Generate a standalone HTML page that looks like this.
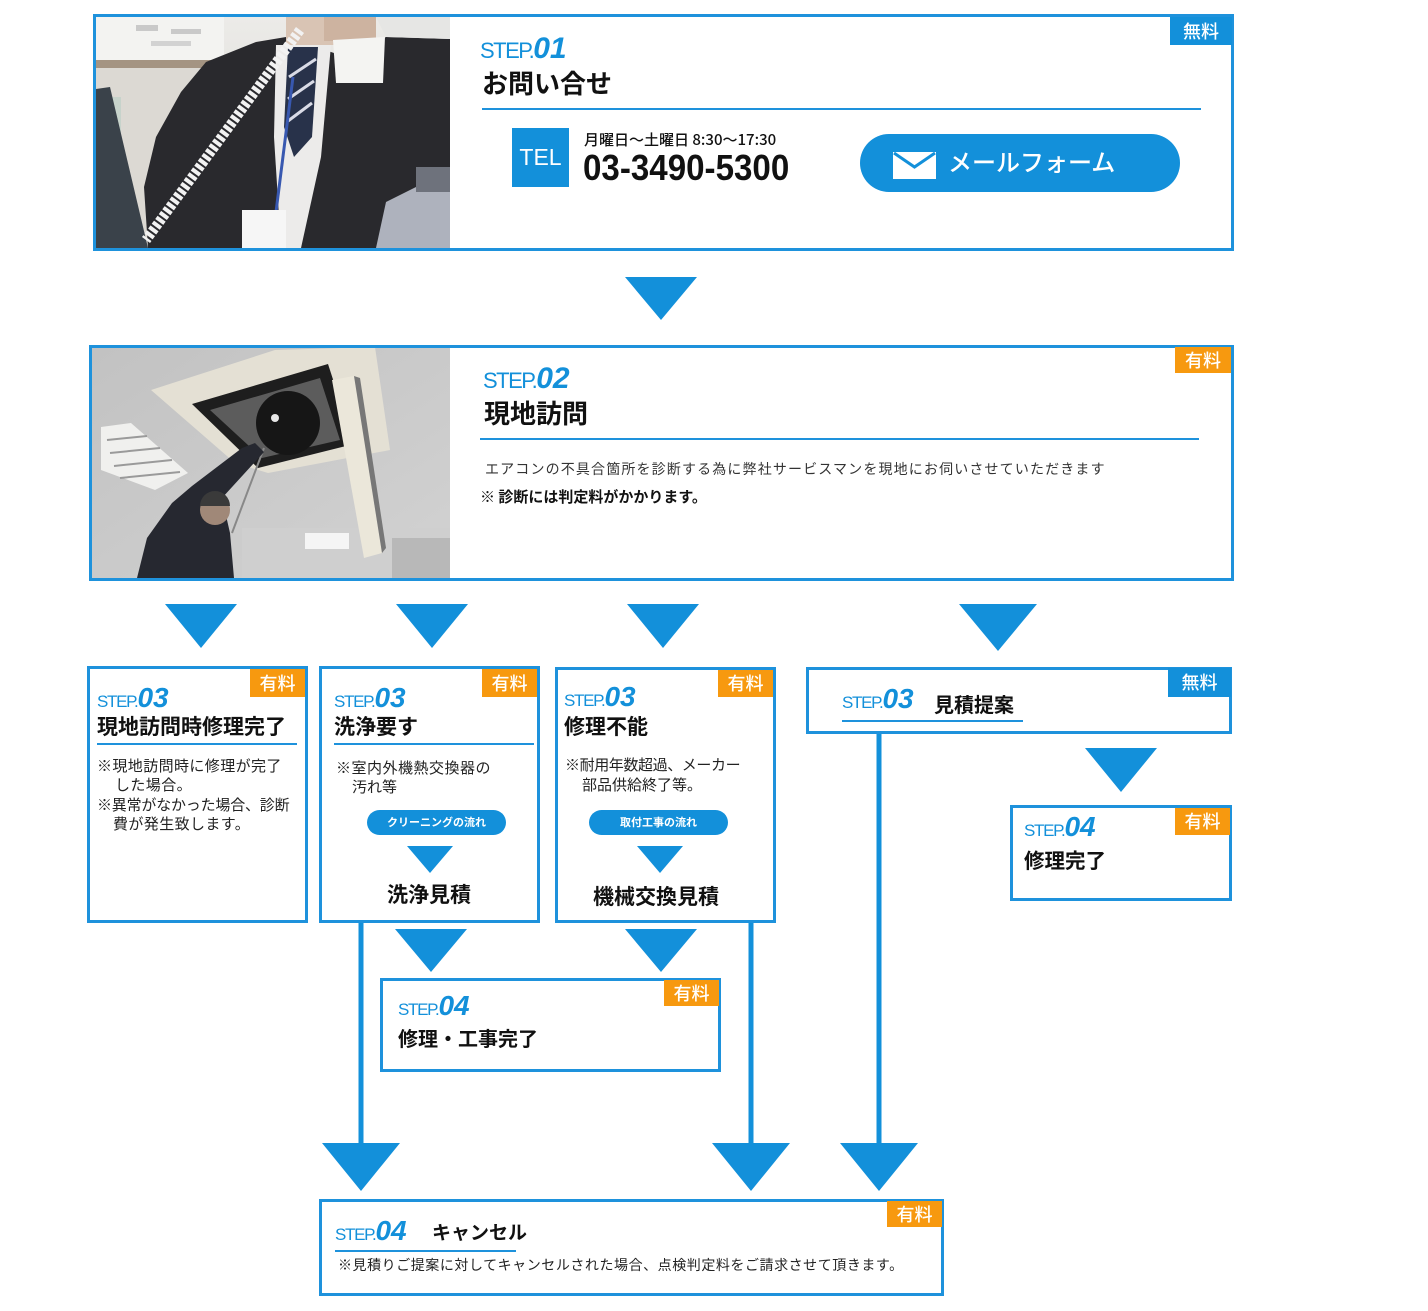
<!DOCTYPE html>
<html><head><meta charset="utf-8">
<style>
*{margin:0;padding:0;box-sizing:border-box}
body{width:1428px;height:1311px;background:#fff;position:relative;overflow:hidden;font-family:"Liberation Sans","Noto Sans CJK JP",sans-serif;color:#111}
.box{position:absolute;border:3px solid #1e92dc;background:#fff}
.badge{position:absolute;color:#fff;font-family:"Noto Sans CJK JP",sans-serif;font-weight:500;font-size:18px;text-align:center}
.or{background:#f7990f}
.bl{background:#1390da}
.step{position:absolute;color:#1390da;line-height:1;white-space:nowrap;font-family:"Liberation Sans",sans-serif}
.step .n{font-weight:700;font-style:italic}
.t{position:absolute;font-family:"Noto Sans CJK JP",sans-serif;font-weight:700;line-height:1;white-space:nowrap;color:#111}
.r{position:absolute;font-family:"Noto Sans CJK JP",sans-serif;font-weight:400;line-height:1;white-space:nowrap;color:#222}
.ln{position:absolute;height:2px;background:#1e92dc}
.pill{position:absolute;background:#1390da;color:#fff;border-radius:13px;height:25px;font-family:"Noto Sans CJK JP",sans-serif;font-weight:700;font-size:11px;line-height:25px;text-align:center}
</style></head><body>

<svg style="position:absolute;left:0;top:0" width="1428" height="1311">
<g fill="#1390da">
<polygon points="625,277 697,277 661,320"/>
<polygon points="165,604 237,604 201,648"/>
<polygon points="396,604 468,604 432,648"/>
<polygon points="627,604 699,604 663,648"/>
<polygon points="959,604 1037,604 998,651"/>
<polygon points="1085,748 1157,748 1121,792"/>
<polygon points="395,929 467,929 431,972"/>
<polygon points="625,929 697,929 661,972"/>
<polygon points="322,1143 400,1143 361,1191"/>
<polygon points="712,1143 790,1143 751,1191"/>
<polygon points="840,1143 918,1143 879,1191"/>
<rect x="358.5" y="920" width="5" height="225"/>
<rect x="748.5" y="920" width="5" height="225"/>
<rect x="876.5" y="732" width="5" height="413"/>
</g>
</svg>

<!-- BOX 1 -->
<div class="box" style="left:93px;top:14px;width:1141px;height:237px"></div>
<svg style="position:absolute;left:96px;top:17px" width="354" height="231" viewBox="0 0 354 231">
<defs><linearGradient id="w1" x1="0" y1="0" x2="0" y2="1"><stop offset="0" stop-color="#ecebe8"/><stop offset="1" stop-color="#d4d3d0"/></linearGradient></defs>
<rect width="354" height="231" fill="url(#w1)"/>
<rect x="0" y="0" width="128" height="43" fill="#f3f3f1"/>
<rect x="40" y="8" width="22" height="6" fill="#c9c9c9"/>
<rect x="75" y="12" width="30" height="5" fill="#c9c9c9"/>
<rect x="55" y="24" width="40" height="5" fill="#d2d2d2"/>
<rect x="0" y="43" width="128" height="8" fill="#a49482"/>
<rect x="0" y="51" width="128" height="180" fill="#dcd9d3"/>
<rect x="0" y="80" width="25" height="80" fill="#c7d3cb"/>
<polygon points="0,72 14,70 52,231 0,231" fill="#3a424a"/>
<polygon points="52,231 48,170 60,120 85,75 110,45 160,25 190,20 250,40 290,20 354,22 354,231" fill="#29292d"/>
<polygon points="280,0 354,0 354,22 290,20" fill="#e6e6e4"/>
<polygon points="290,185 330,165 354,170 354,231 280,231" fill="#aeb2bd"/>
<rect x="320" y="150" width="34" height="25" fill="#6e727c"/>
<polygon points="180,28 235,28 225,140 205,231 185,231 178,120" fill="#ecebea"/>
<polygon points="192,30 222,30 216,120 198,140 188,110" fill="#28324a"/>
<g stroke="#d9dbe6" stroke-width="3"><line x1="193" y1="60" x2="220" y2="42"/><line x1="192" y1="82" x2="218" y2="64"/><line x1="192" y1="104" x2="216" y2="86"/></g>
<rect x="190" y="0" width="54" height="28" fill="#d9c4b4"/>
<rect x="228" y="0" width="52" height="24" fill="#cdb3a0"/>
<polygon points="237,23 289,20 287,66 240,66" fill="#f4f4f2"/>
<line x1="204" y1="13" x2="50" y2="223" stroke="#f2f2f2" stroke-width="10" stroke-dasharray="4 2"/>
<line x1="197" y1="60" x2="180" y2="195" stroke="#3858b0" stroke-width="3"/>
<rect x="146" y="193" width="44" height="38" fill="#f6f6f6"/>
</svg>
<div class="badge bl" style="left:1170px;top:17px;width:62px;height:28px;line-height:28px">無料</div>
<div class="step" style="left:480px;top:34px;font-size:30px"><span style="font-size:22px;letter-spacing:-1.5px">STEP.</span><span class="n">01</span></div>
<div class="t" style="left:482px;top:70px;font-size:26px">お問い合せ</div>
<div class="ln" style="left:482px;top:108px;width:719px"></div>
<div style="position:absolute;left:512px;top:128px;width:57px;height:59px;background:#1390da;color:#fff;font-size:23px;line-height:59px;text-align:center">TEL</div>
<div class="r" style="left:584px;top:132px;font-size:15px;color:#111;font-weight:500">月曜日〜土曜日 8:30〜17:30</div>
<div style="position:absolute;left:583px;top:150px;font-size:36px;line-height:1;font-weight:700;color:#111;transform:scaleX(0.92);transform-origin:0 0;white-space:nowrap">03-3490-5300</div>
<div style="position:absolute;left:860px;top:134px;width:320px;height:58px;border-radius:29px;background:#1390da"></div>
<svg style="position:absolute;left:893px;top:152px" width="43" height="27" viewBox="0 0 43 27"><rect width="43" height="27" fill="#fff"/><polyline points="1,1 21.5,15 42,1" fill="none" stroke="#1390da" stroke-width="3"/></svg>
<div class="t" style="left:948px;top:149px;font-size:24px;color:#fff;font-weight:500">メールフォーム</div>

<!-- BOX 2 -->
<div class="box" style="left:89px;top:345px;width:1145px;height:236px"></div>
<svg style="position:absolute;left:92px;top:348px" width="358" height="230" viewBox="0 0 358 230">
<defs><linearGradient id="c2" x1="0" y1="0" x2="1" y2="1"><stop offset="0" stop-color="#c2c2c2"/><stop offset="1" stop-color="#d2d2d2"/></linearGradient></defs>
<rect width="358" height="230" fill="url(#c2)"/>
<rect x="150" y="180" width="208" height="50" fill="#cfcfcf"/>
<rect x="300" y="190" width="58" height="40" fill="#b8b8b8"/>
<polygon points="9,79 39,75 96,125 63,142 9,122" fill="#f0f0ee"/>
<g stroke="#9a9a9a" stroke-width="2"><line x1="15" y1="92" x2="55" y2="88"/><line x1="18" y1="105" x2="68" y2="100"/><line x1="22" y1="118" x2="80" y2="112"/><line x1="28" y1="130" x2="88" y2="124"/></g>
<polygon points="59,42 183,2 283,-1 298,102 176,125 143,115" fill="#e4e0d4"/>
<polygon points="100,56 236,16 262,96 166,120" fill="#1e1e1e"/>
<polygon points="118,62 228,30 248,92 170,110" fill="#5c5c5c"/>
<circle cx="196" cy="75" r="32" fill="#161616"/>
<circle cx="183" cy="70" r="4" fill="#e8e8e8"/>
<polygon points="240,32 262,28 290,205 272,210" fill="#ebe7da"/>
<polygon points="262,28 268,30 294,200 290,205" fill="#777"/>
<rect x="213" y="185" width="44" height="16" fill="#f5f5f5"/>
<line x1="172" y1="100" x2="140" y2="185" stroke="#888" stroke-width="2"/>
<polygon points="163,95 172,104 130,150 138,185 142,230 45,230 55,190 80,155 100,138 150,100" fill="#262830"/>
<circle cx="123" cy="162" r="15" fill="#a08878"/>
<path d="M108,158 a15,15 0 0 1 30,0 z" fill="#3a3a3a"/>
</svg>
<div class="badge or" style="left:1175px;top:347px;width:56px;height:26px;line-height:26px">有料</div>
<div class="step" style="left:483px;top:364px;font-size:30px"><span style="font-size:22px;letter-spacing:-1.5px">STEP.</span><span class="n">02</span></div>
<div class="t" style="left:484px;top:400px;font-size:26px">現地訪問</div>
<div class="ln" style="left:480px;top:438px;width:719px"></div>
<div class="r" style="left:485px;top:462px;font-size:14px;letter-spacing:1.15px;color:#333">エアコンの不具合箇所を診断する為に弊社サービスマンを現地にお伺いさせていただきます</div>
<div class="t" style="left:480px;top:489px;font-size:15px">※ 診断には判定料がかかります。</div>

<!-- BOX A -->
<div class="box" style="left:87px;top:666px;width:221px;height:257px"></div>
<div class="badge or" style="left:250px;top:669px;width:55px;height:28px;line-height:28px">有料</div>
<div class="step" style="left:97px;top:684px;font-size:28px"><span style="font-size:17px;letter-spacing:-1.3px">STEP.</span><span class="n">03</span></div>
<div class="t" style="left:97px;top:716px;font-size:21px">現地訪問時修理完了</div>
<div class="ln" style="left:97px;top:743px;width:200px"></div>
<div class="r" style="left:97px;top:758px;font-size:15px;letter-spacing:0.4px">※現地訪問時に修理が完了</div>
<div class="r" style="left:115px;top:777px;font-size:15px;letter-spacing:0.4px">した場合。</div>
<div class="r" style="left:97px;top:797px;font-size:15px;letter-spacing:-0.2px">※異常がなかった場合、診断</div>
<div class="r" style="left:113px;top:816px;font-size:15px;letter-spacing:0.4px">費が発生致します。</div>

<!-- BOX B -->
<div class="box" style="left:319px;top:666px;width:221px;height:257px"></div>
<div class="badge or" style="left:482px;top:669px;width:55px;height:28px;line-height:28px">有料</div>
<div class="step" style="left:334px;top:684px;font-size:28px"><span style="font-size:17px;letter-spacing:-1.3px">STEP.</span><span class="n">03</span></div>
<div class="t" style="left:334px;top:716px;font-size:21px">洗浄要す</div>
<div class="ln" style="left:334px;top:743px;width:200px"></div>
<div class="r" style="left:336px;top:760px;font-size:15px;letter-spacing:0.5px">※室内外機熱交換器の</div>
<div class="r" style="left:352px;top:779px;font-size:15px">汚れ等</div>
<div class="pill" style="left:367px;top:810px;width:139px">クリーニングの流れ</div>
<svg style="position:absolute;left:407px;top:846px" width="46" height="27"><polygon points="0,0 46,0 23,27" fill="#1390da"/></svg>
<div class="t" style="left:387px;top:884px;font-size:21px">洗浄見積</div>

<!-- BOX C -->
<div class="box" style="left:555px;top:667px;width:221px;height:256px"></div>
<div class="badge or" style="left:718px;top:670px;width:55px;height:27px;line-height:27px">有料</div>
<div class="step" style="left:564px;top:683px;font-size:28px"><span style="font-size:17px;letter-spacing:-1.3px">STEP.</span><span class="n">03</span></div>
<div class="t" style="left:564px;top:716px;font-size:21px">修理不能</div>
<div class="r" style="left:565px;top:757px;font-size:15px;letter-spacing:-0.4px">※耐用年数超過、メーカー</div>
<div class="r" style="left:582px;top:777px;font-size:15px">部品供給終了等。</div>
<div class="pill" style="left:589px;top:810px;width:139px">取付工事の流れ</div>
<svg style="position:absolute;left:637px;top:846px" width="46" height="27"><polygon points="0,0 46,0 23,27" fill="#1390da"/></svg>
<div class="t" style="left:593px;top:886px;font-size:21px">機械交換見積</div>

<!-- BOX D -->
<div class="box" style="left:806px;top:667px;width:426px;height:67px"></div>
<div class="badge bl" style="left:1168px;top:668px;width:63px;height:29px;line-height:29px">無料</div>
<div class="step" style="left:842px;top:685px;font-size:28px"><span style="font-size:17px;letter-spacing:-1.3px">STEP.</span><span class="n">03</span></div>
<div class="t" style="left:934px;top:694px;font-size:20px">見積提案</div>
<div class="ln" style="left:842px;top:720px;width:181px"></div>

<!-- BOX F -->
<div class="box" style="left:1010px;top:805px;width:222px;height:96px"></div>
<div class="badge or" style="left:1175px;top:808px;width:55px;height:27px;line-height:27px">有料</div>
<div class="step" style="left:1024px;top:813px;font-size:28px"><span style="font-size:17px;letter-spacing:-1.3px">STEP.</span><span class="n">04</span></div>
<div class="t" style="left:1024px;top:849px;font-size:20.5px">修理完了</div>

<!-- BOX G -->
<div class="box" style="left:380px;top:978px;width:341px;height:94px"></div>
<div class="badge or" style="left:664px;top:980px;width:55px;height:26px;line-height:26px">有料</div>
<div class="step" style="left:398px;top:992px;font-size:28px"><span style="font-size:17px;letter-spacing:-1.3px">STEP.</span><span class="n">04</span></div>
<div class="t" style="left:398px;top:1028px;font-size:20px">修理・工事完了</div>

<!-- CANCEL -->
<div class="box" style="left:319px;top:1199px;width:625px;height:97px"></div>
<div class="badge or" style="left:887px;top:1201px;width:55px;height:26px;line-height:26px">有料</div>
<div class="step" style="left:335px;top:1217px;font-size:28px"><span style="font-size:17px;letter-spacing:-1.3px">STEP.</span><span class="n">04</span></div>
<div class="t" style="left:432px;top:1222px;font-size:19px">キャンセル</div>
<div class="ln" style="left:335px;top:1250px;width:181px"></div>
<div class="r" style="left:338px;top:1258px;font-size:14px;letter-spacing:0.55px">※見積りご提案に対してキャンセルされた場合、点検判定料をご請求させて頂きます。</div>

</body></html>
